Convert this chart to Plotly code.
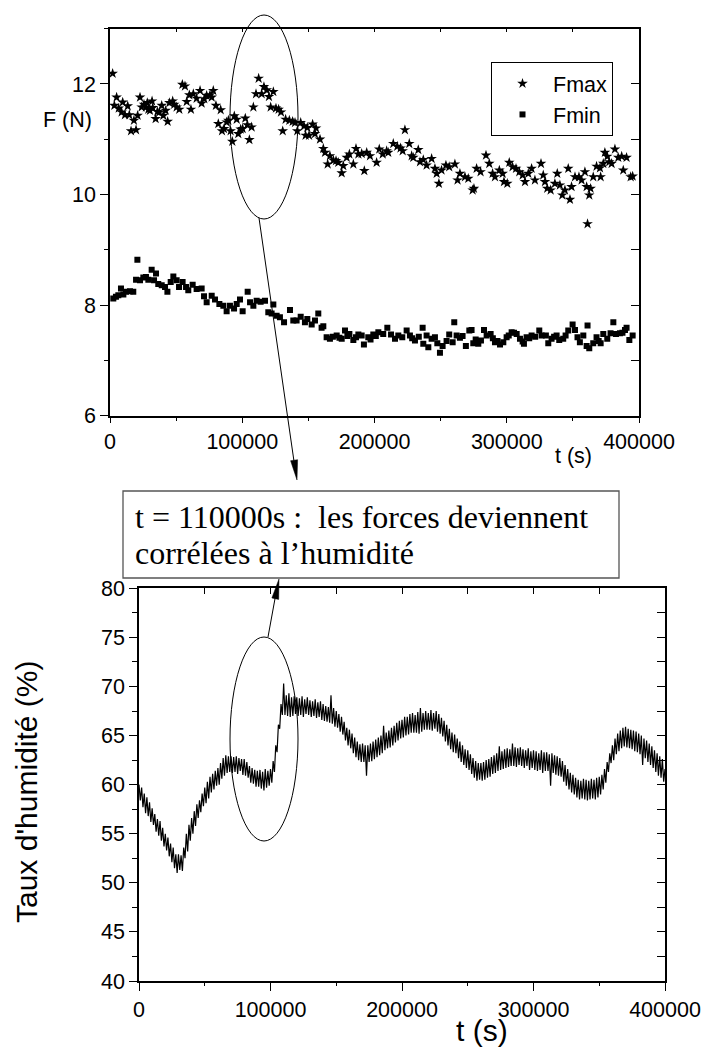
import plotly.graph_objects as go

W, H = 703, 1048

# ---------------- data ----------------
# Top panel: forces vs time (t in kiloseconds)
fmax_t_ks = [2.0, 3.3, 5.0, 6.6, 8.8, 9.6, 11.3, 13.4, 14.6, 15.9,
             18.1, 19.7, 20.9, 22.7, 23.9, 25.7, 27.2, 28.2, 29.0, 30.2,
             31.8, 32.3, 34.5, 35.8, 37.3, 39.1, 40.3, 42.1, 43.6, 44.9,
             47.4, 48.6, 50.4, 52.4, 54.7, 56.7, 58.0, 60.0, 61.2, 63.0,
             65.5, 68.1, 69.3, 71.3, 73.1, 75.6, 76.9, 78.1, 80.1, 81.9,
             83.7, 84.7, 86.2, 88.2, 89.5, 91.2, 92.5, 94.0, 95.8, 97.0,
             98.8, 100.3, 102.3, 103.8, 105.4, 107.1, 108.4, 110.4, 112.4, 114.7,
             116.4, 118.5, 120.2, 121.5, 123.5, 125.5, 127.5, 129.3, 130.6, 132.8,
             135.6, 138.1, 139.9, 141.6, 144.2, 146.7, 147.9, 149.2, 150.5, 153.2,
             155.0, 155.8, 158.8, 161.3, 162.6, 164.6, 166.3, 168.9, 170.9, 172.6,
             175.2, 176.4, 179.0, 181.0, 184.0, 186.0, 187.8, 190.3, 192.3, 194.1,
             196.6, 201.6, 203.6, 206.2, 209.2, 210.4, 214.2, 217.2, 219.7, 221.3,
             223.0, 226.3, 228.1, 229.3, 233.1, 234.4, 236.9, 239.4, 243.2, 245.7,
             247.0, 248.7, 250.7, 254.0, 256.5, 260.8, 262.8, 264.6, 268.4, 270.9,
             274.2, 275.2, 277.2, 280.2, 284.3, 286.8, 289.3, 291.1, 294.4, 296.9,
             297.9, 300.4, 301.9, 304.4, 307.0, 309.5, 312.0, 313.8, 316.3, 318.8,
             321.3, 325.9, 327.6, 328.9, 330.6, 333.2, 336.4, 338.2, 340.2, 342.0,
             344.0, 346.5, 347.8, 349.0, 351.6, 354.6, 356.6, 359.1, 360.4, 361.1,
             362.4, 363.4, 365.4, 367.9, 370.5, 371.0, 373.0, 374.2, 376.0, 377.5,
             379.3, 381.8, 384.3, 386.9, 388.1, 390.6, 393.7, 395.2]
fmax_v = [12.19, 11.61, 11.76, 11.56, 11.49, 11.67, 11.44, 11.60, 11.44, 11.15,
          11.34, 11.17, 11.43, 11.76, 11.58, 11.63, 11.58, 11.66, 11.54, 11.52,
          11.69, 11.57, 11.37, 11.50, 11.49, 11.61, 11.43, 11.52, 11.32, 11.66,
          11.69, 11.63, 11.58, 11.54, 11.99, 11.96, 11.68, 11.80, 11.54, 11.82,
          11.74, 11.88, 11.65, 11.73, 11.79, 11.80, 11.76, 11.88, 11.61, 11.28,
          11.53, 11.15, 11.19, 11.31, 11.34, 11.15, 10.96, 11.42, 11.36, 11.10,
          11.18, 11.19, 11.38, 11.26, 10.99, 11.22, 11.58, 11.82, 12.10, 11.82,
          11.95, 11.89, 11.77, 11.58, 11.86, 11.56, 11.54, 11.49, 11.15, 11.36,
          11.34, 11.32, 11.30, 11.15, 11.30, 11.24, 11.07, 11.21, 11.07, 11.27,
          11.10, 11.20, 11.00, 10.83, 10.76, 10.55, 10.70, 10.62, 10.61, 10.58,
          10.39, 10.52, 10.67, 10.73, 10.55, 10.83, 10.73, 10.74, 10.43, 10.76,
          10.70, 10.58, 10.82, 10.73, 10.79, 10.76, 10.92, 10.87, 10.84, 10.79,
          11.17, 10.92, 10.70, 10.67, 10.81, 10.59, 10.63, 10.53, 10.65, 10.47,
          10.38, 10.20, 10.44, 10.53, 10.50, 10.55, 10.26, 10.38, 10.32, 10.29,
          10.08, 10.11, 10.47, 10.41, 10.71, 10.56, 10.38, 10.32, 10.44, 10.38,
          10.23, 10.20, 10.58, 10.50, 10.47, 10.41, 10.35, 10.23, 10.38, 10.47,
          10.26, 10.56, 10.35, 10.23, 10.11, 10.08, 10.20, 10.38, 10.17, 9.99,
          10.08, 10.47, 9.91, 10.14, 10.32, 10.32, 10.26, 10.41, 10.14, 9.47,
          9.99, 10.11, 10.32, 10.51, 10.48, 10.32, 10.56, 10.76, 10.69, 10.59,
          10.56, 10.82, 10.67, 10.69, 10.44, 10.67, 10.32, 10.33]

fmin_t_ks = [2.5, 4.5, 6.3, 8.3, 10.1, 12.1, 15.1, 17.6, 19.7, 20.7,
             22.7, 25.2, 27.2, 29.0, 31.5, 33.3, 34.8, 36.5, 39.1, 41.6,
             43.4, 45.9, 47.9, 50.4, 52.2, 54.9, 57.5, 59.2, 62.5, 65.5,
             69.3, 71.1, 73.1, 76.9, 79.4, 82.7, 85.7, 88.2, 90.7, 93.8,
             95.8, 98.3, 100.3, 104.1, 105.9, 108.4, 110.9, 113.9, 117.2, 119.7,
             122.2, 123.5, 126.0, 128.5, 131.6, 136.1, 138.6, 141.1, 144.2, 147.4,
             149.2, 152.5, 155.0, 157.5, 160.0, 161.3, 163.8, 166.3, 168.5, 171.4,
             173.5, 175.2, 177.7, 179.5, 181.0, 184.0, 186.0, 187.8, 190.3, 192.0,
             195.3, 197.0, 199.1, 201.0, 202.9, 206.6, 209.7, 212.5, 215.5, 218.0,
             221.0, 224.3, 226.8, 228.5, 230.6, 233.5, 236.4, 236.9, 239.4, 240.7,
             243.2, 245.7, 247.5, 249.5, 251.5, 254.5, 256.5, 259.1, 260.3, 262.1,
             264.6, 266.6, 269.1, 271.7, 273.4, 274.7, 276.5, 278.5, 280.5, 282.8,
             284.8, 287.8, 289.5, 291.1, 293.0, 294.9, 297.4, 299.9, 301.5, 303.7,
             305.5, 307.5, 310.0, 312.0, 313.0, 315.0, 317.0, 318.8, 321.5, 324.6,
             326.4, 329.6, 331.4, 333.9, 335.8, 337.7, 339.7, 342.7, 344.5, 346.5,
             349.8, 351.6, 353.5, 355.3, 357.9, 360.4, 361.1, 362.4, 365.4, 367.9,
             369.5, 371.0, 373.0, 376.0, 378.5, 380.6, 382.6, 385.6, 387.5, 389.4,
             390.6, 392.7, 395.2]
fmin_v = [8.12, 8.15, 8.18, 8.30, 8.19, 8.24, 8.25, 8.24, 8.46, 8.82,
          8.45, 8.50, 8.51, 8.46, 8.64, 8.45, 8.57, 8.38, 8.36, 8.33,
          8.24, 8.42, 8.52, 8.45, 8.33, 8.42, 8.33, 8.27, 8.37, 8.29,
          8.30, 8.16, 8.05, 8.17, 8.10, 8.02, 7.99, 7.89, 7.99, 7.94,
          8.02, 8.10, 7.89, 8.24, 8.05, 7.99, 8.08, 8.06, 8.08, 7.87,
          7.85, 8.01, 7.81, 7.78, 7.69, 7.91, 7.72, 7.72, 7.79, 7.69,
          7.75, 7.65, 7.72, 7.85, 7.59, 7.62, 7.42, 7.39, 7.43, 7.45,
          7.41, 7.39, 7.54, 7.44, 7.48, 7.37, 7.42, 7.47, 7.45, 7.29,
          7.42, 7.38, 7.47, 7.44, 7.51, 7.48, 7.59, 7.47, 7.39, 7.45,
          7.42, 7.54, 7.45, 7.40, 7.36, 7.43, 7.59, 7.30, 7.45, 7.24,
          7.39, 7.42, 7.31, 7.14, 7.26, 7.35, 7.47, 7.33, 7.69, 7.45,
          7.41, 7.44, 7.26, 7.54, 7.55, 7.31, 7.38, 7.30, 7.36, 7.55,
          7.45, 7.48, 7.40, 7.33, 7.35, 7.29, 7.33, 7.42, 7.45, 7.51,
          7.50, 7.48, 7.39, 7.34, 7.30, 7.42, 7.40, 7.45, 7.43, 7.54,
          7.45, 7.45, 7.31, 7.39, 7.43, 7.45, 7.37, 7.39, 7.45, 7.54,
          7.65, 7.55, 7.42, 7.33, 7.45, 7.26, 7.63, 7.22, 7.31, 7.42,
          7.35, 7.31, 7.48, 7.39, 7.49, 7.69, 7.48, 7.49, 7.50, 7.55,
          7.59, 7.37, 7.45]

# Bottom panel: humidity (%), one reading every 1000 s from t = 0 to 400000 s
hum_step_s = 1000
hum_v = [60.0, 58.4, 59.7, 57.7, 59.1, 57.1, 58.7, 56.8, 58.2, 56.2,
         57.6, 55.9, 57.0, 55.2, 56.5, 54.8, 56.3, 54.3, 55.6, 53.7,
         55.0, 53.3, 54.6, 52.7, 54.0, 52.1, 53.6, 51.5, 52.9, 51.0,
         52.9, 51.3, 52.8, 51.2, 53.6, 52.5, 55.0, 53.2, 55.9, 54.3,
         56.6, 55.0, 57.3, 55.8, 58.0, 56.6, 58.4, 57.2, 59.1, 57.8,
         59.7, 58.1, 60.3, 58.6, 60.8, 59.2, 61.1, 59.5, 61.4, 59.9,
         61.7, 60.0, 62.2, 60.6, 62.7, 60.9, 63.0, 61.2, 62.9, 61.3,
         62.9, 61.2, 62.8, 61.3, 62.9, 61.1, 62.7, 61.4, 62.6, 61.0,
         62.6, 60.9, 62.3, 60.7, 61.9, 60.2, 61.7, 60.1, 61.5, 59.8,
         61.4, 59.8, 61.5, 59.6, 61.3, 59.4, 61.6, 59.7, 61.4, 59.9,
         61.6, 60.2, 62.4, 61.3, 64.0, 63.3, 66.1, 65.7, 68.2, 67.1,
         70.3, 67.1, 69.1, 67.0, 69.3, 66.9, 68.9, 67.0, 69.0, 67.2,
         68.9, 67.0, 68.8, 67.1, 69.0, 66.9, 68.7, 67.2, 68.9, 67.1,
         68.6, 66.9, 68.5, 67.0, 68.7, 66.8, 68.4, 66.9, 68.5, 66.6,
         68.2, 66.5, 68.0, 66.4, 67.9, 66.3, 69.1, 66.2, 67.8, 65.9,
         67.5, 65.8, 67.2, 65.4, 66.9, 65.1, 66.4, 64.5, 65.8, 64.0,
         65.6, 63.7, 65.2, 63.2, 64.8, 62.8, 64.4, 62.5, 64.1, 62.3,
         64.2, 62.3, 64.0, 60.9, 64.0, 62.3, 64.2, 62.4, 64.4, 62.6,
         64.6, 62.8, 64.8, 63.0, 65.0, 63.2, 66.0, 63.5, 65.3, 63.7,
         65.5, 63.8, 65.8, 64.0, 66.0, 64.3, 66.3, 64.5, 66.5, 64.7,
         66.6, 64.8, 66.9, 65.0, 66.9, 65.1, 67.2, 65.3, 67.3, 65.3,
         67.1, 65.3, 67.4, 65.2, 67.8, 65.4, 67.3, 65.6, 67.5, 65.6,
         67.3, 65.6, 67.6, 65.5, 67.3, 65.7, 67.5, 65.4, 67.2, 65.2,
         66.8, 64.9, 66.5, 64.4, 66.1, 64.0, 65.7, 63.6, 65.3, 63.3,
         65.1, 63.2, 64.7, 62.7, 64.4, 62.3, 64.0, 62.0, 63.6, 61.7,
         63.5, 61.5, 63.1, 61.1, 62.7, 60.7, 62.4, 60.4, 62.2, 60.5,
         62.2, 60.4, 62.3, 60.5, 62.5, 60.7, 62.6, 60.8, 62.8, 61.1,
         63.0, 61.2, 63.2, 61.4, 63.9, 61.5, 63.4, 61.6, 63.6, 61.7,
         63.7, 61.8, 63.6, 61.9, 64.2, 61.9, 63.8, 61.8, 63.7, 62.0,
         63.8, 61.9, 63.6, 61.7, 63.5, 61.9, 63.7, 61.5, 63.4, 61.7,
         63.5, 61.5, 63.4, 61.4, 63.2, 61.5, 63.5, 61.2, 63.3, 61.4,
         63.3, 61.4, 63.1, 59.9, 63.2, 61.2, 63.0, 61.0, 62.9, 60.9,
         62.7, 60.8, 62.4, 60.3, 62.0, 59.9, 61.6, 59.5, 61.2, 59.2,
         61.0, 59.0, 60.7, 58.7, 60.5, 58.5, 60.4, 58.6, 60.6, 58.5,
         60.5, 58.4, 60.4, 58.5, 60.6, 58.6, 60.5, 58.5, 60.7, 58.7,
         60.8, 59.0, 61.0, 59.5, 61.6, 60.2, 62.3, 61.3, 63.2, 62.2,
         64.0, 62.5, 64.7, 63.1, 65.2, 63.4, 65.5, 63.7, 65.8, 63.9,
         65.9, 63.8, 65.7, 63.7, 65.6, 63.6, 65.5, 63.4, 65.4, 63.3,
         65.2, 63.1, 65.0, 62.0, 64.7, 62.7, 64.5, 62.3, 64.2, 62.0,
         63.9, 61.7, 63.5, 61.3, 63.2, 60.9, 62.9, 60.7, 62.6, 60.3,
         61.6]

x_tickvals = [0, 100000, 200000, 300000, 400000]
x_ticktext = ["0", "100000", "200000", "300000", "400000"]
f_tickvals = [6, 8, 10, 12]
h_tickvals = [40, 45, 50, 55, 60, 65, 70, 75, 80]

# ---------------- helpers ----------------
def px(x):
    return x / W


def py(y):
    return 1 - y / H


SANS = "Liberation Sans, Arial, sans-serif"
SERIF = "Liberation Serif, Times New Roman, serif"
TICKFONT = dict(family=SANS, size=21.5, color="black")

fmax_t = [v * 1000 for v in fmax_t_ks]
fmin_t = [v * 1000 for v in fmin_t_ks]
hum_t = [i * hum_step_s for i in range(len(hum_v))]

fig = go.Figure()
fig.add_trace(go.Scatter(x=fmax_t, y=fmax_v, mode="markers", name="Fmax",
                         marker=dict(symbol="star", size=8, color="black", line=dict(width=0)),
                         xaxis="x", yaxis="y"))
fig.add_trace(go.Scatter(x=fmin_t, y=fmin_v, mode="markers", name="Fmin",
                         marker=dict(symbol="square", size=6, color="black", line=dict(width=0)),
                         xaxis="x", yaxis="y"))
fig.add_trace(go.Scatter(x=hum_t, y=hum_v, mode="lines", showlegend=False,
                         line=dict(color="black", width=1.2), xaxis="x2", yaxis="y2"))
# carriers for mirror (inside-tick) axes
fig.add_trace(go.Scatter(x=[None], y=[None], xaxis="x3", yaxis="y3", showlegend=False, hoverinfo="skip"))
fig.add_trace(go.Scatter(x=[None], y=[None], xaxis="x4", yaxis="y4", showlegend=False, hoverinfo="skip"))

axis_common = dict(showgrid=False, zeroline=False, showline=True, linecolor="black",
                   linewidth=1.5, tickcolor="black", tickwidth=1.3, tickfont=TICKFONT,
                   automargin=False)

top_xd = [px(110), px(639)]
top_yd = [py(415.7), py(28.7)]
bot_xd = [px(139), px(665)]
bot_yd = [py(981), py(588.3)]

fig.update_layout(
    width=W, height=H,
    margin=dict(l=0, r=0, t=0, b=0, pad=0, autoexpand=False),
    paper_bgcolor="white", plot_bgcolor="white",
    showlegend=True,
    legend=dict(x=px(491), y=py(62), xanchor="left", yanchor="top",
                bgcolor="white", bordercolor="black", borderwidth=1,
                font=dict(family=SANS, size=21.5, color="black"),
                itemwidth=51, tracegroupgap=0),
    xaxis=dict(axis_common, domain=top_xd, anchor="y", range=[0, 400000],
               tickmode="array", tickvals=x_tickvals, ticktext=x_ticktext,
               ticks="outside", ticklen=6,
               minor=dict(ticks="outside", ticklen=4, dtick=50000, tick0=0,
                          tickcolor="black", tickwidth=1.3)),
    yaxis=dict(axis_common, domain=top_yd, anchor="x", range=[6, 13],
               tickmode="array", tickvals=f_tickvals,
               ticks="outside", ticklen=8,
               minor=dict(ticks="outside", ticklen=4, dtick=1, tick0=0,
                          tickcolor="black", tickwidth=1.3)),
    xaxis3=dict(axis_common, overlaying="x", side="top", anchor="y3", range=[0, 400000],
                ticks="inside", ticklen=4, tickmode="linear", tick0=0, dtick=50000,
                showticklabels=False),
    yaxis3=dict(axis_common, overlaying="y", side="right", anchor="x3", range=[6, 13],
                ticks="inside", ticklen=8, tickmode="linear", tick0=0, dtick=1,
                showticklabels=False),
    xaxis2=dict(axis_common, domain=bot_xd, anchor="y2", range=[0, 400000],
                tickmode="array", tickvals=x_tickvals, ticktext=x_ticktext,
                ticks="outside", ticklen=8,
                minor=dict(ticks="outside", ticklen=3, dtick=50000, tick0=0,
                           tickcolor="black", tickwidth=1.3)),
    yaxis2=dict(axis_common, domain=bot_yd, anchor="x2", range=[40, 80],
                tickmode="array", tickvals=h_tickvals,
                ticks="outside", ticklen=8,
                minor=dict(ticks="outside", ticklen=5, dtick=2.5, tick0=0,
                           tickcolor="black", tickwidth=1.3)),
    xaxis4=dict(axis_common, overlaying="x2", side="top", anchor="y4", range=[0, 400000],
                ticks="inside", ticklen=6, tickmode="linear", tick0=0, dtick=50000,
                showticklabels=False),
    yaxis4=dict(axis_common, overlaying="y2", side="right", anchor="x4", range=[40, 80],
                ticks="inside", ticklen=8, tickmode="linear", tick0=0, dtick=2.5,
                showticklabels=False),
)

annotations = [
    dict(text="F (N)", x=px(67), y=py(120), font=dict(family=SANS, size=21.5)),
    dict(text="t (s)", x=px(573), y=py(456), font=dict(family=SANS, size=21.5)),
    dict(text="t (s)", x=px(482), y=py(1030), font=dict(family=SANS, size=30)),
    dict(text="Taux d'humidité (%)", x=px(26), y=py(792), textangle=-90,
         font=dict(family=SANS, size=30)),
    dict(text="t = 110000s :\u00a0 les forces deviennent", x=px(133), y=py(517),
         xanchor="left", font=dict(family=SERIF, size=32)),
    dict(text="corrélées à l\u2019humidité", x=px(133), y=py(553),
         xanchor="left", font=dict(family=SERIF, size=32)),
]
for a in annotations:
    a.setdefault("xanchor", "center")
    a.update(xref="paper", yref="paper", yanchor="middle", showarrow=False)
    a["font"]["color"] = "black"
fig.update_layout(annotations=annotations)


def tri(points):
    d = "M " + " L ".join(f"{px(x):.5f},{py(y):.5f}" for x, y in points) + " Z"
    return d


shapes = [
    # callout box
    dict(type="rect", xref="paper", yref="paper", x0=px(123), x1=px(619),
         y0=py(578), y1=py(491), line=dict(color="#555555", width=1.3), fillcolor="white",
         layer="above"),
    # ellipses
    dict(type="circle", xref="paper", yref="paper", x0=px(230), x1=px(298),
         y0=py(219), y1=py(15), line=dict(color="black", width=1)),
    dict(type="circle", xref="paper", yref="paper", x0=px(230), x1=px(298),
         y0=py(841), y1=py(637), line=dict(color="black", width=1)),
    # arrow 1 (top ellipse -> box)
    dict(type="line", xref="paper", yref="paper", x0=px(259), y0=py(218),
         x1=px(294.1), y1=py(462), line=dict(color="black", width=1)),
    dict(type="path", xref="paper", yref="paper",
         path=tri([(297, 480), (297.6, 459.7), (290.6, 460.7)]),
         fillcolor="black", line=dict(color="black", width=0.5)),
    # arrow 2 (bottom ellipse -> box)
    dict(type="line", xref="paper", yref="paper", x0=px(268), y0=py(637),
         x1=px(275.3), y1=py(597), line=dict(color="black", width=1)),
    dict(type="path", xref="paper", yref="paper",
         path=tri([(279, 579), (278.7, 599.4), (271.9, 598.0)]),
         fillcolor="black", line=dict(color="black", width=0.5)),
]
fig.update_layout(shapes=shapes)

fig.write_html(
    "out.html",
    config={"displayModeBar": False},
    post_script="document.body.style.margin='0px';document.body.style.padding='0px';"
                "document.body.style.overflow='hidden';",
)
